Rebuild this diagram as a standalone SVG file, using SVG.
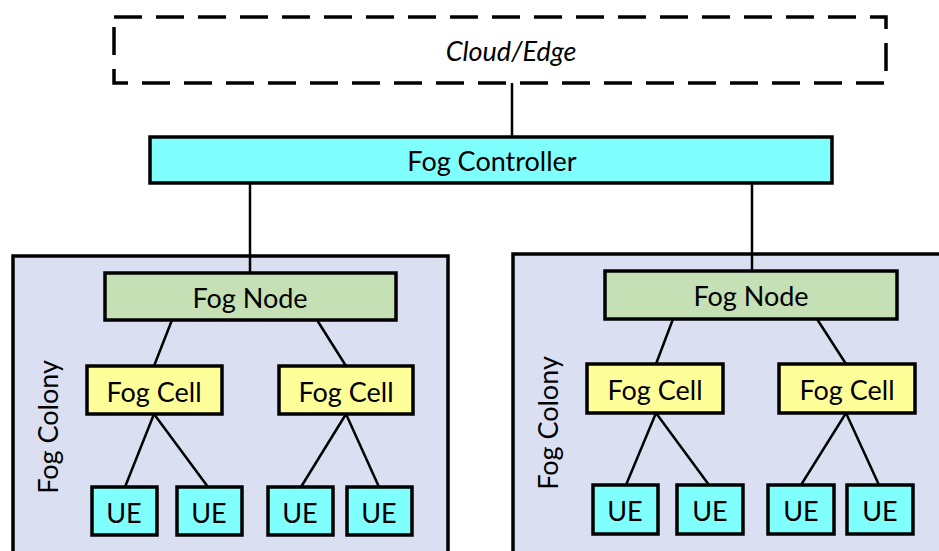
<svg xmlns="http://www.w3.org/2000/svg" width="939" height="551" viewBox="0 0 939 551">
<style>
text{font-family:Lato,"Liberation Sans",sans-serif;font-size:27px;fill:#000;text-anchor:middle;dominant-baseline:central}
.box{stroke:#000;stroke-width:3.5}
.ctl{fill:#80FFFF}
.col{fill:#DAE0F2}
.node{fill:#C5E0B4}
.cell{fill:#FFFF99}
.ue{fill:#80FFFF}
.ln{stroke:#000;stroke-width:2.5;fill:none}
</style>
<rect width="939" height="551" fill="#fff"/>
<g id="cloud">
<rect x="114" y="17" width="772" height="66" fill="#fff" stroke="#000" stroke-width="3.5" stroke-dasharray="28,14"/>
<text x="511" y="50" font-style="italic" font-size="29">Cloud/Edge</text>
</g>
<g id="controller">
<rect class="box ctl" x="150" y="137" width="682" height="46"/>
<text x="492" y="160" font-size="27.5">Fog Controller</text>
</g>
<g id="colony-left">
<rect class="box col" x="13" y="256" width="435" height="310"/>
<text x="47" y="427" transform="rotate(-90 47 427)" font-size="28">Fog Colony</text>
</g>
<g id="colony-right">
<rect class="box col" x="513" y="254" width="440" height="310"/>
<text x="547" y="423" transform="rotate(-90 547 423)" font-size="28">Fog Colony</text>
</g>
<g id="connectors">
<line class="ln" x1="512" y1="83" x2="512" y2="137"/>
<line class="ln" x1="250" y1="183" x2="250" y2="273"/>
<line class="ln" x1="752" y1="183" x2="752" y2="271"/>
<line class="ln" x1="172" y1="320" x2="154" y2="366"/>
<line class="ln" x1="317" y1="320" x2="346" y2="366"/>
<line class="ln" x1="154" y1="414" x2="125" y2="487"/>
<line class="ln" x1="154" y1="414" x2="208" y2="487"/>
<line class="ln" x1="346" y1="414" x2="301" y2="487"/>
<line class="ln" x1="346" y1="414" x2="379" y2="487"/>
<line class="ln" x1="673" y1="319" x2="656" y2="364"/>
<line class="ln" x1="817" y1="319" x2="846" y2="364"/>
<line class="ln" x1="656" y1="413" x2="626" y2="485"/>
<line class="ln" x1="656" y1="413" x2="709" y2="485"/>
<line class="ln" x1="846" y1="413" x2="801" y2="485"/>
<line class="ln" x1="846" y1="413" x2="879" y2="485"/>
</g>
<g id="node-left">
<rect class="box node" x="105" y="273" width="291" height="47"/>
<text x="250" y="297">Fog Node</text>
</g>
<g id="cell-l1">
<rect class="box cell" x="87" y="366" width="135" height="48"/>
<text x="154" y="391">Fog Cell</text>
</g>
<g id="cell-l2">
<rect class="box cell" x="279" y="366" width="134" height="48"/>
<text x="346" y="391">Fog Cell</text>
</g>
<g id="ue-l1"><rect class="box ue" x="92" y="487" width="65" height="48"/><text x="124" y="512">UE</text></g>
<g id="ue-l2"><rect class="box ue" x="177" y="487" width="65" height="48"/><text x="209" y="512">UE</text></g>
<g id="ue-l3"><rect class="box ue" x="268" y="487" width="65" height="48"/><text x="300" y="512">UE</text></g>
<g id="ue-l4"><rect class="box ue" x="347" y="487" width="65" height="48"/><text x="379" y="512">UE</text></g>
<g id="node-right">
<rect class="box node" x="605" y="271" width="292" height="48"/>
<text x="751" y="295">Fog Node</text>
</g>
<g id="cell-r1">
<rect class="box cell" x="587" y="364" width="136" height="49"/>
<text x="655" y="389">Fog Cell</text>
</g>
<g id="cell-r2">
<rect class="box cell" x="779" y="364" width="136" height="49"/>
<text x="847" y="389">Fog Cell</text>
</g>
<g id="ue-r1"><rect class="box ue" x="593" y="485" width="65" height="49"/><text x="625" y="510">UE</text></g>
<g id="ue-r2"><rect class="box ue" x="677" y="485" width="66" height="49"/><text x="710" y="510">UE</text></g>
<g id="ue-r3"><rect class="box ue" x="768" y="485" width="66" height="49"/><text x="801" y="510">UE</text></g>
<g id="ue-r4"><rect class="box ue" x="847" y="485" width="66" height="49"/><text x="880" y="510">UE</text></g>
</svg>
